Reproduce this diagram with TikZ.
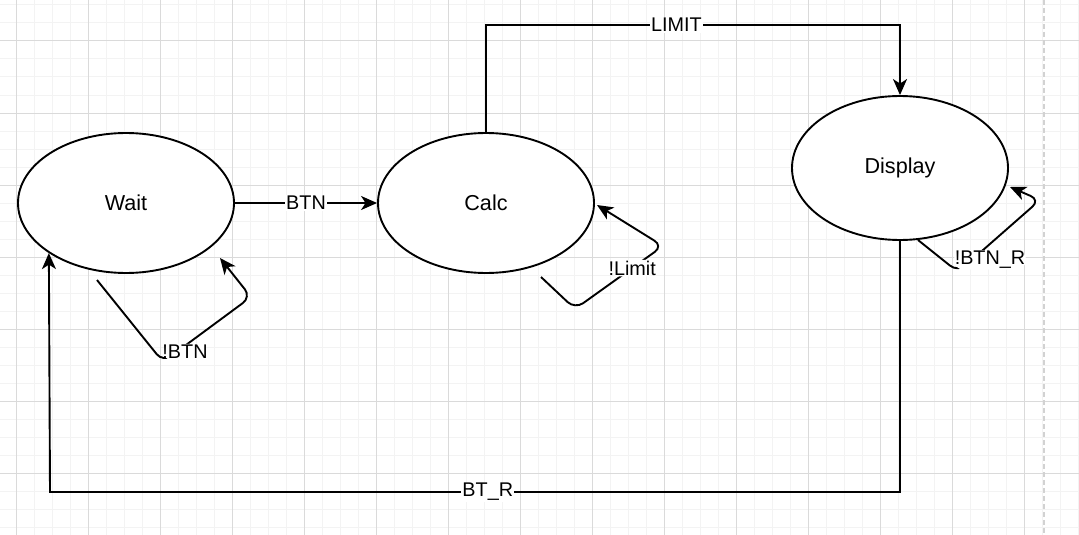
\documentclass[tikz,border=0pt]{standalone}
\usepackage{fontspec}
\setmainfont{Liberation Sans}
\usetikzlibrary{arrows.meta,shapes.geometric}
\definecolor{gmaj}{RGB}{218,218,218}
\definecolor{gmin}{RGB}{243,243,243}
\definecolor{pageln}{RGB}{210,210,210}
\begin{document}
\begin{tikzpicture}[x=1pt,y=-1pt,
  state/.style={ellipse,draw,line width=1.9pt,fill=white,minimum width=216pt,minimum height=140pt,inner sep=0pt,font=\fontsize{21.6}{26}\selectfont},
  conn/.style={line width=1.9pt,-{Stealth[length=16pt,width=14pt,inset=4.5pt]}},
  selfloop/.style={conn,rounded corners=10pt},
  lbl/.style={fill=white,inner sep=1pt,font=\fontsize{19.8}{24}\selectfont}]
\useasboundingbox (0,0) rectangle (1079,535);
\fill[white] (0,0) rectangle (1079,535);
% grid
\foreach \i in {0,...,60} \draw[gmin,line width=1pt] ({-2+18*\i},0) -- ({-2+18*\i},535);
\foreach \j in {0,...,29} \draw[gmin,line width=1pt] (0,{5+18*\j}) -- (1079,{5+18*\j});
\foreach \i in {0,...,14} \draw[gmaj,line width=1pt] ({16+72*\i},0) -- ({16+72*\i},535);
\foreach \j in {0,...,6} \draw[gmaj,line width=1pt] (0,{41+72*\j}) -- (1079,{41+72*\j});
\draw[pageln,line width=2pt,dash pattern=on 5pt off 3pt] (1044,0) -- (1044,535);
% states
\node[state] (wait) at (126,203) {Wait};
\node[state] (calc) at (486,203) {Calc};
\node[state,minimum height=144pt] (disp) at (900,168) {Display};
% transitions
\draw[conn] (wait.east) -- node[lbl]{BTN} (calc.west);
\coordinate (c1) at (486,25);
\coordinate (c2) at (900,25);
\draw[conn] (calc.north) -- (c1) -- node[lbl,pos=0.46]{LIMIT} (c2) -- (disp.north);
\coordinate (d1) at (900,492);
\coordinate (d2) at (50,492);
\draw[conn] (disp.south) -- (d1) -- node[lbl,pos=0.485]{BT\_R} (d2) -- (wait.213.3);
% self loops
\coordinate (w0) at (97,280);
\coordinate (w1) at (163,362);
\coordinate (w2) at (251,297);
\coordinate (w3) at (220,258);
\draw[selfloop] (w0) -- (w1) -- node[lbl,pos=0.25,yshift=-6pt]{!BTN} (w2) -- (w3);
\coordinate (k0) at (541,277);
\coordinate (k1) at (575,309);
\coordinate (k2) at (663,246);
\coordinate (k3) at (597,205);
\draw[selfloop] (k0) -- (k1) -- node[lbl,pos=0.65]{!Limit} (k2) -- (k3);
\coordinate (p0) at (918,240);
\coordinate (p1) at (958,272);
\coordinate (p2) at (1040,200);
\coordinate (p3) at (1010,187);
\draw[selfloop] (p0) -- (p1) -- node[lbl,pos=0.39,yshift=-16pt]{!BTN\_R} (p2) -- (p3);
\end{tikzpicture}
\end{document}
